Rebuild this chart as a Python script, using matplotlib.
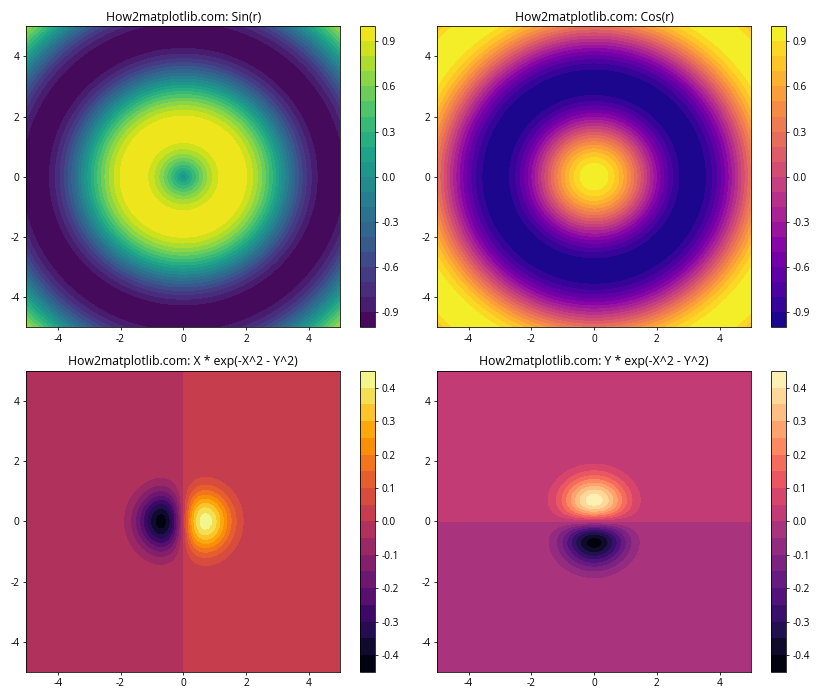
import numpy as np
import matplotlib
matplotlib.use('Agg')
import matplotlib.pyplot as plt

plt.rcParams['font.family'] = ['Open Sans', 'DejaVu Sans']
plt.rcParams['axes.unicode_minus'] = False
plt.rcParams['axes.titlesize'] = 12.6
plt.rcParams['xtick.labelsize'] = 10.4
plt.rcParams['ytick.labelsize'] = 10.4

# radial profiles
radius = [0, .25, .5, .75, 1, 1.25, 1.5, 1.75, 2, 2.25, 2.5, 2.75, 3, 3.25, 3.5,
          3.75, 4, 4.25, 4.5, 4.75, 5, 5.25, 5.5, 5.75, 6, 6.25, 6.5, 6.75, 7, 7.25]
sin_profile = [0, .247, .479, .682, .841, .949, .997, .984, .909, .778, .598, .382, .141,
               -.108, -.351, -.572, -.757, -.895, -.978, -.999, -.959, -.859, -.706, -.508,
               -.279, -.033, .215, .451, .657, .823]
cos_profile = [1, .969, .878, .732, .540, .315, .071, -.178, -.416, -.628, -.801, -.924,
               -.990, -.994, -.936, -.821, -.654, -.446, -.211, .038, .284, .512, .709,
               .861, .960, .999, .977, .893, .754, .568]

# profiles for the bottom panels, positive half only
half_pos = [0, .1, .2, .3, .4, .5, .6, .7, .8, .9, 1, 1.1, 1.2, 1.3, 1.4, 1.5, 1.6, 1.7,
            1.8, 1.9, 2, 2.2, 2.4, 2.6, 3, 5]
lobe = [0, .099, .192, .274, .341, .389, .419, .429, .422, .400, .368, .328, .284, .239,
        .197, .158, .124, .095, .070, .051, .037, .017, .0076, .003, .0004, .0001]
falloff = [1, .990, .961, .914, .852, .779, .698, .613, .527, .445, .368, .298, .237, .185,
           .141, .105, .077, .056, .039, .027, .018, .008, .003, .001, .0001, .0001]

titles = ['How2matplotlib.com: Sin(r)', 'How2matplotlib.com: Cos(r)',
          'How2matplotlib.com: X * exp(-X^2 - Y^2)', 'How2matplotlib.com: Y * exp(-X^2 - Y^2)']
cmaps = ['viridis', 'plasma', 'inferno', 'magma']


def rings(profile):
    theta = np.linspace(0, 2*np.pi, 180, endpoint=False)
    r = np.array(radius[1:])
    xs = np.r_[0, np.outer(r, np.cos(theta)).ravel()]
    ys = np.r_[0, np.outer(r, np.sin(theta)).ravel()]
    zs = np.r_[profile[0], np.repeat(profile[1:], len(theta))]
    return xs, ys, zs


pos = np.array(half_pos)
axis_vals = np.r_[-pos[:0:-1], pos]
odd = np.r_[-np.array(lobe)[:0:-1], lobe]
even = np.r_[np.array(falloff)[:0:-1], falloff]

fig, axes = plt.subplots(2, 2, figsize=(12, 10), dpi=70)

for i, prof in enumerate([sin_profile, cos_profile]):
    xs, ys, zs = rings(prof)
    cs = axes[0, i].tricontourf(xs, ys, zs, levels=20, cmap=cmaps[i])
    fig.colorbar(cs, ax=axes[0, i])

cs = axes[1, 0].contourf(axis_vals, axis_vals, np.outer(even, odd), levels=20, cmap=cmaps[2])
fig.colorbar(cs, ax=axes[1, 0])
cs = axes[1, 1].contourf(axis_vals, axis_vals, np.outer(odd, even), levels=20, cmap=cmaps[3])
fig.colorbar(cs, ax=axes[1, 1])

for ax, title in zip(axes.flat, titles):
    ax.set_xlim(-5, 5)
    ax.set_ylim(-5, 5)
    ax.set_title(title)

plt.tight_layout()
plt.savefig('out.png')
